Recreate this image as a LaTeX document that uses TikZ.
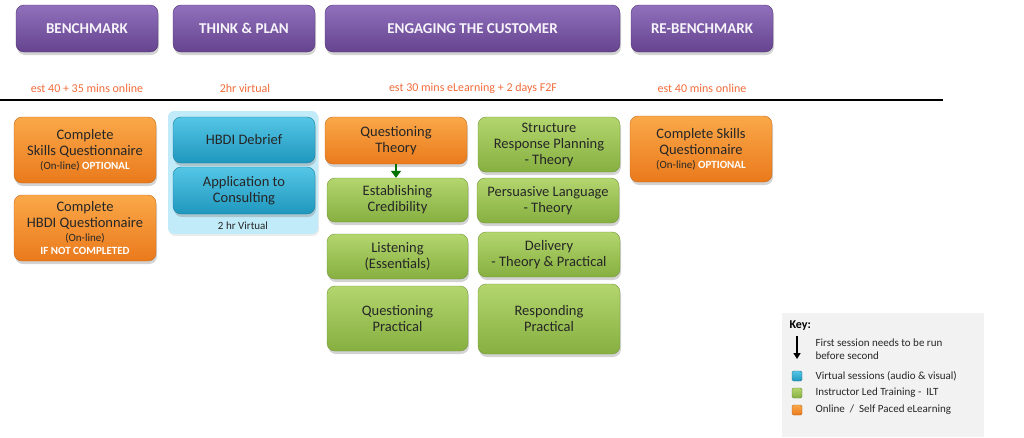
\documentclass[tikz,border=0pt]{standalone}
\usepackage{fontspec}
\setmainfont{Carlito}
\usetikzlibrary{shadows,arrows.meta}
\definecolor{purpleT}{HTML}{9070BC}
\definecolor{purpleB}{HTML}{65438F}
\definecolor{orangeT}{HTML}{FAA849}
\definecolor{orangeB}{HTML}{EA7A1C}
\definecolor{greenT}{HTML}{B3D66E}
\definecolor{greenB}{HTML}{86AF40}
\definecolor{blueT}{HTML}{55C6E6}
\definecolor{blueB}{HTML}{1F97BD}
\definecolor{virtbg}{HTML}{C2EBF9}
\definecolor{esttext}{HTML}{F26B3A}
\definecolor{keybg}{HTML}{F2F2F2}
\definecolor{boxtext}{HTML}{262626}
\newcommand{\boxsmall}{\fontsize{11}{12.5}\selectfont}
\begin{document}
\begin{tikzpicture}[x=1pt,y=-1pt,
  basebox/.style={rounded corners=8pt, inner sep=2pt, align=center,
    text=boxtext, font=\fontsize{14.5}{16}\selectfont,
    drop shadow={opacity=0.35, shadow xshift=1pt, shadow yshift=-3pt}},
  headbox/.style={basebox, top color=purpleT, bottom color=purpleB,
    draw=purpleB!80!black, text=white!92!purpleT,
    font=\fontsize{15}{17}\selectfont\bfseries},
  orbox/.style={basebox, top color=orangeT, bottom color=orangeB, draw=orangeB!85!black},
  grbox/.style={basebox, top color=greenT, bottom color=greenB, draw=greenB!85!black},
  blbox/.style={basebox, top color=blueT, bottom color=blueB, draw=blueB!85!black},
  estlabel/.style={text=esttext, font=\fontsize{12}{14}\selectfont},
  smalltext/.style={font=\boxsmall},
  keysq/.style={rounded corners=1.5pt, minimum width=10pt, minimum height=10pt,
    inner sep=0pt, draw=#1B!80!black, top color=#1T, bottom color=#1B},
  keytext/.style={anchor=west, align=left, text=boxtext, font=\fontsize{11}{13}\selectfont}]
\useasboundingbox (0,0) rectangle (1024,437);

% headers
\node[headbox, minimum width=142pt, minimum height=47pt] (bench) at (87,28.5) {BENCHMARK};
\node[headbox, minimum width=142pt, minimum height=47pt] (think) at (244,28.5) {THINK \& PLAN};
\node[headbox, minimum width=295pt, minimum height=47pt] (engage) at (472.5,28.5) {ENGAGING THE CUSTOMER};
\node[headbox, minimum width=142pt, minimum height=47pt] (rebench) at (702,28.5) {RE-BENCHMARK};

% durations
\node[estlabel] (lbench) at (87,88) {est 40 + 35 mins online};
\node[estlabel] (lthink) at (245,88) {2hr virtual};
\node[estlabel] (lengage) at (473,88) {est 30 mins eLearning + 2 days F2F};
\node[estlabel] (lrebench) at (702,88) {est 40 mins online};

\coordinate (lineL) at (0,100);
\coordinate (lineR) at (943,100);
\draw[line width=2.5pt] (lineL) -- (lineR);

% benchmark column
\node[orbox, minimum width=142pt, minimum height=66pt] (skills) at (85,150)
  {Complete\\Skills Questionnaire\\[-2pt]{\boxsmall (On-line) \textcolor{white}{\bfseries OPTIONAL}}};
\node[orbox, minimum width=142pt, minimum height=66pt] (hbdiq) at (85,228)
  {Complete\\HBDI Questionnaire\\[-2pt]{\boxsmall (On-line)}\\[-3pt]{\boxsmall\color{white}\bfseries IF NOT COMPLETED}};

% think & plan column
\node[fill=virtbg, rounded corners=6pt, minimum width=150pt, minimum height=123pt,
  drop shadow={opacity=0.15, shadow xshift=1pt, shadow yshift=-2pt}] (vbg) at (243,172.5) {};
\node[blbox, minimum width=142pt, minimum height=46pt] (debrief) at (244,140) {HBDI Debrief};
\node[blbox, minimum width=142pt, minimum height=47pt] (apply) at (244,190.5) {Application to\\Consulting};
\node[smalltext, text=boxtext] (vlabel) at (243,226) {2 hr Virtual};

% engaging the customer
\node[orbox, minimum width=142pt, minimum height=47pt] (qtheory) at (396,140.5) {Questioning\\Theory};
\node[grbox, minimum width=141pt, minimum height=44pt] (credib) at (397.5,200) {Establishing\\Credibility};
\node[grbox, minimum width=141pt, minimum height=45pt] (listen) at (397.5,256.5) {Listening\\(Essentials)};
\node[grbox, minimum width=141pt, minimum height=65pt] (qpract) at (397.5,318.5) {Questioning\\Practical};
\node[grbox, minimum width=142pt, minimum height=55pt] (structure) at (549,144.5) {Structure\\Response Planning\\- Theory};
\node[grbox, minimum width=142pt, minimum height=45pt] (persuade) at (548,200.5) {Persuasive Language\\- Theory};
\node[grbox, minimum width=142pt, minimum height=45pt] (delivery) at (549,254.5) {Delivery\\- Theory \& Practical};
\node[grbox, minimum width=142pt, minimum height=70pt] (respond) at (549,319) {Responding\\Practical};
\draw[-{Triangle[length=7pt,width=10pt]}, line width=2.6pt, draw=green!45!black, fill=green!45!black]
  (qtheory.south) -- (qtheory.south |- credib.north);

% re-benchmark
\node[orbox, minimum width=142pt, minimum height=66pt] (reskills) at (701,149)
  {Complete Skills\\Questionnaire\\[-2pt]{\boxsmall (On-line) \textcolor{white}{\bfseries OPTIONAL}}};

% key
\node[fill=keybg, minimum width=202pt, minimum height=124pt, inner sep=0pt] (keybox) at (883,375) {};
\node[anchor=west, font=\fontsize{12}{14}\selectfont\bfseries] (keytitle) at (786,326) {Key:};
\coordinate (karrA) at (797,336);
\coordinate (karrB) at (797,359);
\draw[-{Triangle[length=6pt,width=7pt]}, line width=1.6pt] (karrA) -- (karrB);
\node[keytext] (kfirst) at (812,349.5) {First session needs to be run\\before second};
\node[keysq=blue] (sqblue) at (797,376) {};
\node[keytext] (kblue) at (812,376) {Virtual sessions (audio \& visual)};
\node[keysq=green] (sqgreen) at (797,393) {};
\node[keytext] (kgreen) at (812,393) {Instructor Led Training -~~ILT};
\node[keysq=orange] (sqorange) at (797,410) {};
\node[keytext] (korange) at (812,410) {Online ~/~ Self Paced eLearning};
\end{tikzpicture}
\end{document}
